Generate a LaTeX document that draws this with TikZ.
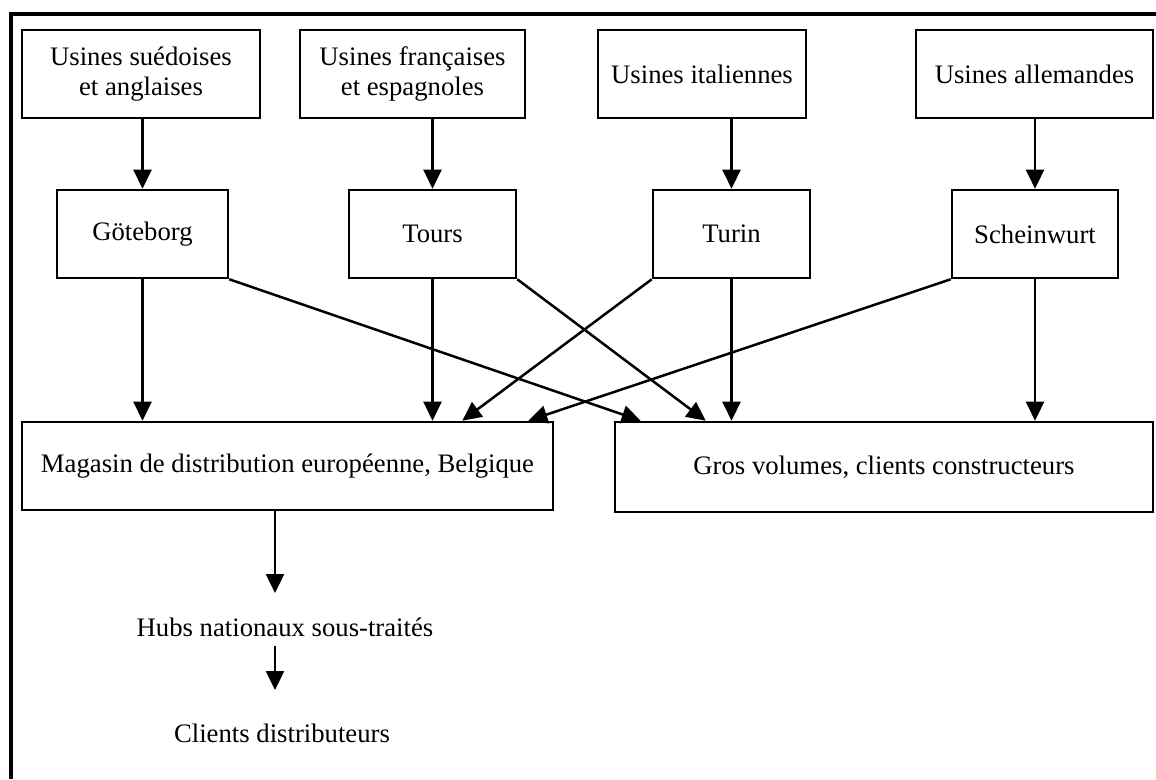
\documentclass[tikz,border=0pt]{standalone}
\usepackage{fontspec}
\setmainfont{Liberation Serif}
\usetikzlibrary{arrows.meta}
\begin{document}
\begin{tikzpicture}[x=1pt, y=-1pt,
  txt/.style={font=\fontsize{26.7}{30}\selectfont, inner sep=0pt},
  box/.style={txt, draw, line width=2.6pt, align=center},
  flow/.style={line width=2.5pt, -{Triangle[length=19pt, width=18pt]}},
  frame/.style={line width=3.5pt}]
\useasboundingbox (0,0) rectangle (1156,779);

% open frame round the chart: top and left sides only
\coordinate (fbl) at (11,779);
\coordinate (ftl) at (11,14);
\coordinate (ftr) at (1156,14);
\draw[frame] (fbl) -- (ftl) -- (ftr);

% factories
\node[box, minimum width=238pt, minimum height=88pt] (usw) at (141,74) {Usines suédoises\\et anglaises};
\node[box, minimum width=225pt, minimum height=88pt] (ufr) at (412.5,74) {Usines françaises\\et espagnoles};
\node[box, minimum width=208pt, minimum height=88pt] (uit) at (702,74) {Usines italiennes};
\node[box, minimum width=237pt, minimum height=88pt] (ude) at (1034.5,74) {Usines allemandes};

% regional sites
\node[box, minimum width=171pt, minimum height=88pt] (got) at (142.5,234) {Göteborg};
\node[box, minimum width=167pt, minimum height=88pt] (tou) at (432.5,234) {Tours};
\node[box, minimum width=157pt, minimum height=88pt] (tur) at (731.5,234) {Turin};
\node[box, minimum width=166pt, minimum height=88pt] (sch) at (1035,234) {Scheinwurt};

% destinations
\node[box, minimum width=531pt, minimum height=88pt] (mag) at (287.5,466) {Magasin de distribution européenne, Belgique};
\node[box, minimum width=538pt, minimum height=90pt] (gro) at (884,467) {Gros volumes, clients constructeurs};

% downstream chain
\node[txt] (hub) at (285,627) {Hubs nationaux sous-traités};
\node[txt] (cli) at (282,733) {Clients distributeurs};
\coordinate (hubin) at (275,593);
\coordinate (hubout) at (275,646);
\coordinate (cliin) at (275,690);

% factories to sites
\draw[flow] (got.north |- usw.south) -- (got.north);
\draw[flow] (tou.north |- ufr.south) -- (tou.north);
\draw[flow] (tur.north |- uit.south) -- (tur.north);
\draw[flow] (sch.north |- ude.south) -- (sch.north);

% sites straight down
\draw[flow] (got.south) -- (got.south |- mag.north);
\draw[flow] (tou.south) -- (tou.south |- mag.north);
\draw[flow] (tur.south) -- (tur.south |- gro.north);
\draw[flow] (sch.south) -- (sch.south |- gro.north);

% crossing flows
\draw[flow] (got.south east) -- ([xshift=27pt]gro.north west);
\draw[flow] (tou.south east) -- ([xshift=92pt]gro.north west);
\draw[flow] (tur.south west) -- ([xshift=-92pt]mag.north east);
\draw[flow] (sch.south west) -- ([xshift=-26pt]mag.north east);

% distribution chain
\draw[flow] (mag.south -| hubin) -- (hubin);
\draw[flow] (hubout) -- (cliin);
\end{tikzpicture}
\end{document}
